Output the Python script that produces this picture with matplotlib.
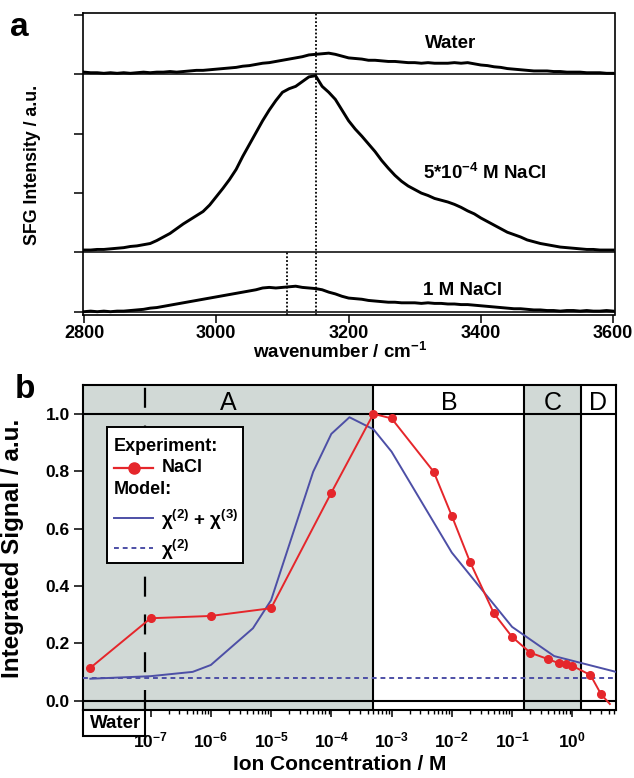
import numpy as np
import matplotlib
matplotlib.use("Agg")
import matplotlib.pyplot as plt
from matplotlib.patches import Rectangle
from matplotlib.lines import Line2D
from matplotlib.transforms import blended_transform_factory

plt.rcParams['font.family'] = ['Liberation Sans', 'DejaVu Sans']
plt.rcParams['font.weight'] = 'bold'
plt.rcParams['mathtext.fontset'] = 'custom'
plt.rcParams['mathtext.rm'] = 'Liberation Sans:bold'
plt.rcParams['mathtext.bf'] = 'Liberation Sans:bold'
plt.rcParams['mathtext.it'] = 'Liberation Sans:bold'
plt.rcParams['mathtext.default'] = 'rm'

# ---------------- panel a: SFG spectra (2800-3600 cm-1, 10 cm-1 steps) ----------------
wavenumber = np.arange(2800, 3601, 10)

spec_water = [0.04, 0.03, 0.03, 0.02, 0.03, 0.02, 0.03, 0.02, 0.03, 0.04,
              0.03, 0.04, 0.04, 0.05, 0.04, 0.05, 0.06, 0.07, 0.07, 0.08,
              0.09, 0.10, 0.11, 0.12, 0.14, 0.15, 0.17, 0.19, 0.20, 0.22,
              0.24, 0.26, 0.28, 0.30, 0.33, 0.34, 0.35, 0.36, 0.34, 0.31,
              0.28, 0.27, 0.26, 0.24, 0.24, 0.23, 0.22, 0.22, 0.21, 0.20,
              0.20, 0.19, 0.20, 0.19, 0.19, 0.19, 0.20, 0.19, 0.20, 0.18,
              0.16, 0.15, 0.13, 0.12, 0.10, 0.09, 0.08, 0.07, 0.06, 0.06,
              0.06, 0.05, 0.05, 0.04, 0.04, 0.04, 0.03, 0.03, 0.03, 0.02, 0.02]

spec_nacl_5e4 = [0.04, 0.04, 0.05, 0.05, 0.06, 0.07, 0.08, 0.10, 0.11, 0.13,
                 0.15, 0.20, 0.26, 0.32, 0.40, 0.48, 0.55, 0.62, 0.69, 0.80,
                 0.94, 1.08, 1.23, 1.40, 1.62, 1.82, 2.02, 2.22, 2.40, 2.56,
                 2.70, 2.76, 2.80, 2.88, 2.96, 2.98, 2.80, 2.70, 2.58, 2.40,
                 2.22, 2.08, 1.96, 1.83, 1.70, 1.55, 1.42, 1.30, 1.20, 1.12,
                 1.06, 1.00, 0.96, 0.91, 0.88, 0.85, 0.81, 0.76, 0.70, 0.65,
                 0.58, 0.52, 0.46, 0.40, 0.34, 0.30, 0.26, 0.21, 0.18, 0.15,
                 0.13, 0.11, 0.09, 0.08, 0.07, 0.06, 0.05, 0.05, 0.04, 0.04, 0.04]

spec_nacl_1M = [0.00, 0.01, 0.00, 0.01, 0.00, 0.01, 0.01, 0.02, 0.03, 0.04,
                0.06, 0.07, 0.09, 0.11, 0.13, 0.15, 0.17, 0.19, 0.21, 0.23,
                0.25, 0.27, 0.29, 0.31, 0.33, 0.35, 0.37, 0.40, 0.41, 0.40,
                0.41, 0.42, 0.43, 0.41, 0.40, 0.39, 0.37, 0.33, 0.30, 0.26,
                0.23, 0.22, 0.21, 0.19, 0.18, 0.17, 0.16, 0.16, 0.15, 0.15,
                0.15, 0.14, 0.15, 0.14, 0.14, 0.13, 0.13, 0.12, 0.12, 0.11,
                0.10, 0.09, 0.08, 0.07, 0.06, 0.05, 0.05, 0.04, 0.03, 0.03,
                0.02, 0.02, 0.01, 0.02, 0.02, 0.01, 0.02, 0.01, 0.01, 0.02, 0.01]

peak_water = 3150
peak_1M = 3107

# ---------------- panel b: integrated signal vs. ion concentration ----------------
conc_exp = [1e-8, 1e-7, 1e-6, 1e-5, 1e-4, 5e-4, 1e-3, 5e-3, 1e-2, 2e-2, 5e-2,
            0.1, 0.2, 0.4, 0.6, 0.8, 1.0, 2.0, 3.0, 4.2]
signal_exp = [0.114, 0.287, 0.295, 0.322, 0.725, 1.0, 0.984, 0.798, 0.644, 0.484, 0.304,
              0.222, 0.167, 0.144, 0.130, 0.126, 0.121, 0.089, 0.022, -0.012]

conc_model = [1e-8, 1e-7, 5e-7, 1e-6, 5e-6, 1e-5, 5e-5, 1e-4, 2e-4, 5e-4, 1e-3,
              1e-2, 0.1, 0.5, 5.3]
signal_model = [0.076, 0.085, 0.100, 0.124, 0.252, 0.350, 0.798, 0.930, 0.988, 0.946,
                0.868, 0.516, 0.257, 0.155, 0.100]
chi2_only = 0.077

region_names = ['A', 'B', 'C', 'D']
region_bounds = [5e-4, 0.16, 1.4]
water_mark = 10 ** -7.1

RED = '#e5262b'
BLUE = '#4d4fa6'
GRAY = '#d1d9d6'

W, H = 634, 778
fig = plt.figure(figsize=(W / 100, H / 100), dpi=100)


def rect(l, t, r, b):
    return [l / W, 1 - b / H, (r - l) / W, (b - t) / H]


# ======================= panel a =======================
axa = fig.add_axes(rect(82.7, 13.3, 614.5, 315.5))
offsets = {'water': 4.0, 'mid': 1.0, 'low': 0.0}
for base in offsets.values():
    axa.axhline(base, color='k', lw=1.1, zorder=2)
axa.plot(wavenumber, np.array(spec_water) + offsets['water'], color='k', lw=2.1, zorder=3)
axa.plot(wavenumber, np.array(spec_nacl_5e4) + offsets['mid'], color='k', lw=2.1, zorder=3)
axa.plot(wavenumber, np.array(spec_nacl_1M) + offsets['low'], color='k', lw=2.1, zorder=3)

ya0, ya1 = -0.064, 5.032
axa.vlines(peak_water, ya0, ya1, colors='k', linestyles=(0, (1, 1.1)), lw=1.3, zorder=2)
axa.vlines(peak_1M, ya0, 1.0, colors='k', linestyles=(0, (1, 1.1)), lw=1.3, zorder=2)

axa.set_xlim(2798, 3602)
axa.set_ylim(ya0, ya1)
axa.set_xticks([2800, 3000, 3200, 3400, 3600])
axa.set_yticks([0, 1, 2, 3, 4, 5])
axa.set_yticklabels([])
axa.tick_params(axis='y', direction='out', length=6.5, width=1.1)
axa.tick_params(axis='x', direction='out', length=5.5, width=1.1, labelsize=13, pad=1.5)
for sp in axa.spines.values():
    sp.set_linewidth(1.2)

axa.text(3354, 4.53, 'Water', ha='center', va='center', fontsize=13.5)
axa.text(3312, 2.34, r'5*10$^{-4}$ M NaCl', ha='left', va='center', fontsize=13.5)
axa.text(3373, 0.35, '1 M NaCl', ha='center', va='center', fontsize=13.5)

fig.text(340 / W, 1 - 352 / H, r'wavenumber / cm$^{-1}$', ha='center', va='center',
         fontsize=13.5)
fig.text(41 / W, 1 - 165 / H, 'SFG Intensity / a.u.', ha='right', va='center',
         rotation=90, fontsize=12.8)
fig.text(19 / W, 1 - 28 / H, 'a', ha='center', va='center', fontsize=24)

# ======================= panel b =======================
axb = fig.add_axes(rect(83.3, 385, 615.5, 710))
axb.set_xscale('log')
xb0, xb1 = 10 ** -8.117, 10 ** 0.717
axb.set_xlim(xb0, xb1)
axb.set_ylim(-0.033, 1.1005)

edges = [xb0] + region_bounds + [xb1]
for i, name in enumerate(region_names):
    lo, hi = edges[i], edges[i + 1]
    if i % 2 == 0:
        axb.axvspan(lo, hi, facecolor=GRAY, edgecolor='none', zorder=0)
    axb.text(np.sqrt(lo * hi), 1.013, name, ha='center', va='baseline',
             fontsize=18, fontweight='normal', zorder=5)
for b in region_bounds:
    axb.axvline(b, color='k', lw=1.5, zorder=4)
axb.axhline(1.0, color='k', lw=1.5, zorder=4)
axb.axhline(0.0, color='k', lw=1.5, zorder=4)
axb.axvline(water_mark, color='k', lw=1.6, ls=(0, (9, 8)), zorder=4)

axb.axhline(chi2_only, color=BLUE, lw=1.4, ls=(0, (2.5, 2)), zorder=5)
axb.plot(conc_model, signal_model, color=BLUE, lw=1.4, zorder=6)
axb.plot(conc_exp, signal_exp, color=RED, lw=1.4, marker='o', ms=5.5,
         markevery=list(range(len(conc_exp) - 1)), zorder=7)

axb.set_yticks([0.0, 0.2, 0.4, 0.6, 0.8, 1.0])
axb.set_yticklabels(['%.1f' % v for v in [0.0, 0.2, 0.4, 0.6, 0.8, 1.0]])
major = [10.0 ** k for k in range(-7, 1)]
axb.set_xticks(major)
axb.set_xticklabels([r'$10^{%d}$' % k for k in range(-7, 1)])
minor = [m * 10.0 ** k for k in range(-7, 1) for m in range(2, 10) if m * 10.0 ** k < xb1]
axb.set_xticks(minor, minor=True)
axb.tick_params(axis='y', direction='out', length=6.8, width=1.1, labelsize=12.5, pad=3)
axb.tick_params(axis='x', which='major', direction='out', length=5, width=1.1,
                labelsize=12.5, pad=10)
axb.tick_params(axis='x', which='minor', direction='out', length=3, width=1.0)
for sp in axb.spines.values():
    sp.set_linewidth(1.5)

# "Water" reference box below the axis
tb = blended_transform_factory(axb.transData, axb.transAxes)
axb.add_patch(Rectangle((xb0, -0.079), water_mark - xb0, 0.079, transform=tb,
                        facecolor='white', edgecolor='k', lw=1.5, clip_on=False, zorder=8))
axb.text(np.sqrt(xb0 * water_mark) * 1.05, -0.042, 'Water', transform=tb, ha='center',
         va='center', fontsize=13.5, clip_on=False, zorder=9)

# legend block
W_b, H_b = 532.2, 325.0


def fx(px):
    return (px - 83.3) / W_b


def fy(py):
    return (710 - py) / H_b


ta = axb.transAxes
axb.add_patch(Rectangle((fx(107.3), fy(563.3)), fx(242.7) - fx(107.3), fy(427.3) - fy(563.3),
                        transform=ta, facecolor='white', edgecolor='k', lw=1.4, zorder=10))
axb.text(fx(113.3), fy(450.7), 'Experiment:', transform=ta, ha='left', va='baseline',
         fontsize=13, zorder=11)
axb.add_line(Line2D([fx(114), fx(153)], [fy(467.7)] * 2, transform=ta, color=RED, lw=1.6,
                    zorder=11))
axb.add_line(Line2D([fx(133.5)], [fy(467.7)], transform=ta, color=RED, marker='o', ms=8,
                    zorder=11))
axb.text(fx(161.7), fy(467.7), 'NaCl', transform=ta, ha='left', va='center', fontsize=13,
         zorder=11)
axb.text(fx(113.3), fy(494), 'Model:', transform=ta, ha='left', va='baseline', fontsize=13,
         zorder=11)
axb.add_line(Line2D([fx(114), fx(153)], [fy(518.3)] * 2, transform=ta, color=BLUE, lw=1.4,
                    zorder=11))
axb.text(fx(161), fy(526), r'χ$^{(2)}$ + χ$^{(3)}$', transform=ta, ha='left', va='baseline',
         fontsize=13.5, zorder=11)
axb.add_line(Line2D([fx(114), fx(153)], [fy(548.3)] * 2, transform=ta, color=BLUE, lw=1.4,
                    ls=(0, (2.5, 2)), zorder=11))
axb.text(fx(161), fy(556.5), r'χ$^{(2)}$', transform=ta, ha='left', va='baseline',
         fontsize=13.5, zorder=11)

fig.text(340 / W, 1 - 765 / H, 'Ion Concentration / M', ha='center', va='center', fontsize=15)
fig.text(24 / W, 1 - 548 / H, 'Integrated Signal / a.u.', ha='right', va='center',
         rotation=90, fontsize=17.5)
fig.text(25 / W, 1 - 390 / H, 'b', ha='center', va='center', fontsize=24)

fig.savefig('out.png', dpi=100)
